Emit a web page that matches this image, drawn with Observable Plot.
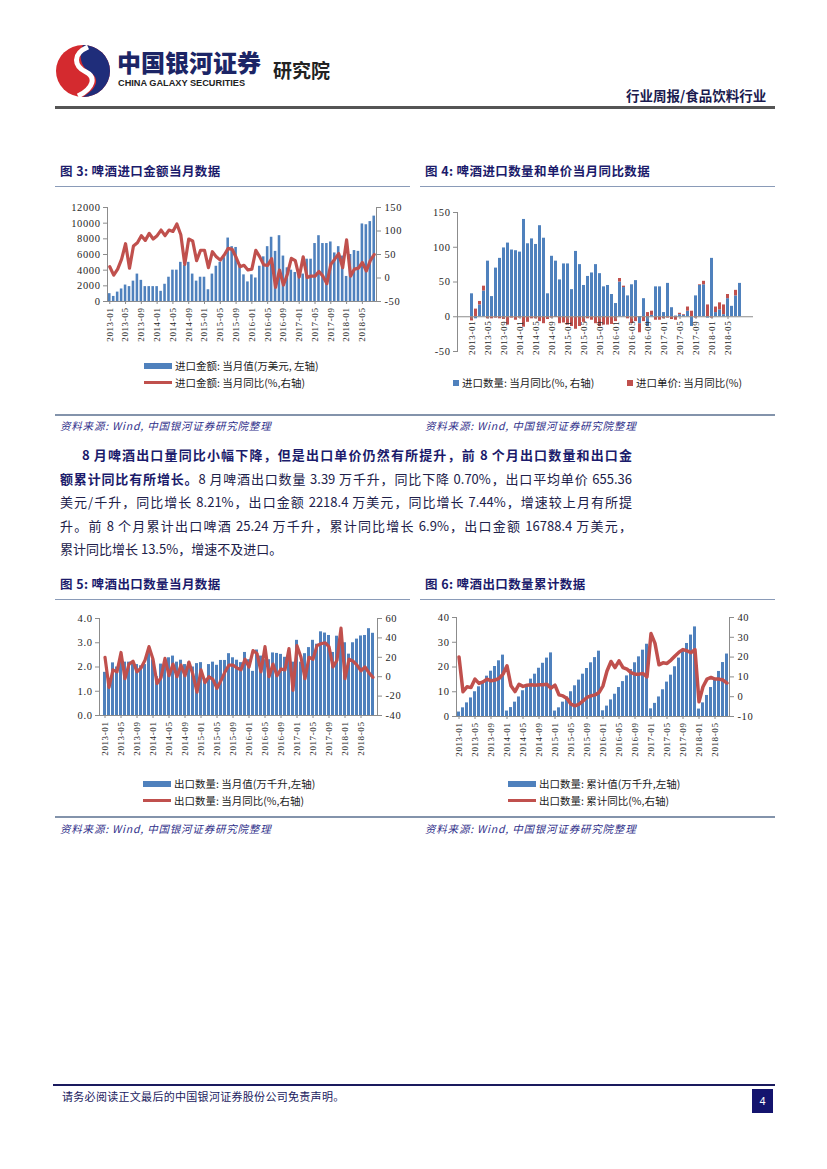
<!DOCTYPE html>
<html><head><meta charset="utf-8">
<script src="https://cdn.jsdelivr.net/npm/d3@7"></script>
<script src="https://cdn.jsdelivr.net/npm/@observablehq/plot@0.6"></script>
<style>
html,body{margin:0;padding:0;background:#fff;overflow:hidden;}
#page{position:relative;width:827px;height:1169px;background:#fff;font-family:"Noto Sans CJK SC","Noto Sans",sans-serif;color:#222;}
.abs{position:absolute;}
.title{font-size:12.5px;font-weight:bold;color:#1b1b6b;letter-spacing:0.4px;white-space:nowrap;}
.hline{position:absolute;height:0;border-top:1.5px solid #8a9bb8;}
.src{font-size:10.5px;font-style:italic;color:#2f2f8a;letter-spacing:0.8px;white-space:nowrap;}
.leg{font-size:10.5px;color:#222;white-space:nowrap;display:flex;align-items:center;}
.sw{display:inline-block;margin-right:3px;}
.para{position:absolute;left:60px;width:572px;font-size:13px;color:#20204a;}
.ln{height:23.5px;line-height:23.5px;white-space:nowrap;}
.j{text-align:justify;text-align-last:justify;white-space:normal;overflow:hidden;}
.para b{color:#1b1b6b;}
.chart{position:absolute;}
.chart svg{position:absolute;left:0;top:0;}
.hd{position:absolute;line-height:1;white-space:nowrap;}
</style></head>
<body><div id="page">

<!-- header -->
<svg class="abs" style="left:54px;top:44px" width="58" height="54" viewBox="0 0 58 54">
  <ellipse cx="29" cy="27" rx="27" ry="26" fill="#d42a2f"/>
  <path d="M29 1 A27 26 0 0 1 56 27 A27 26 0 0 1 29 53 C44 44 46 34 36 28 C24 21 26 8 29 1Z" fill="#1f2d7a"/>
  <path d="M34 3 C18 10 20 22 32 28 C42 33 40 44 24 52" stroke="#fff" stroke-width="5" fill="none"/>
</svg>
<div class="hd" style="left:117px;top:50px;font-size:24px;font-weight:900;color:#1c2566;">中国银河证券</div>
<div class="hd" style="left:118px;top:79px;font-family:'Liberation Sans',Arial,sans-serif;font-size:9.2px;font-weight:bold;color:#222;">CHINA GALAXY SECURITIES</div>
<div class="hd" style="left:273px;top:60px;font-size:19px;font-weight:bold;color:#222;">研究院</div>
<div class="hd" style="left:626px;top:89px;font-size:13.5px;font-weight:bold;color:#1a1a4e;">行业周报/食品饮料行业</div>
<div class="abs" style="left:55px;top:106px;width:720px;height:3px;background:#555;"></div>

<!-- chart titles -->
<div class="abs title" style="left:60px;top:161px;">图 3: 啤酒进口金额当月数据</div>
<div class="abs title" style="left:425px;top:161px;">图 4: 啤酒进口数量和单价当月同比数据</div>
<div class="hline" style="left:55px;top:186px;width:355px;"></div>
<div class="hline" style="left:420px;top:186px;width:355px;"></div>

<div id="c3" class="chart" style="left:55px;top:195px;width:355px;height:160px;"></div>
<div id="c4" class="chart" style="left:420px;top:200px;width:355px;height:165px;"></div>

<div class="abs leg" style="left:144px;top:358px;"><span class="sw" style="width:28px;height:6px;background:#4f81bd;"></span>进口金额: 当月值(万美元, 左轴)</div>
<div class="abs leg" style="left:144px;top:375px;"><span class="sw" style="width:28px;height:3px;background:#c0504d;"></span>进口金额: 当月同比(%,右轴)</div>
<div class="abs leg" style="left:453px;top:375px;"><span class="sw" style="width:6px;height:6px;background:#4f81bd;"></span>进口数量: 当月同比(%, 右轴)</div>
<div class="abs leg" style="left:627px;top:375px;"><span class="sw" style="width:6px;height:6px;background:#c0504d;"></span>进口单价: 当月同比(%)</div>

<div class="abs" style="left:55px;top:414px;width:720px;height:2px;background:#8393ab;"></div>
<div class="abs src" style="left:60px;top:418px;">资料来源: Wind, 中国银河证券研究院整理</div>
<div class="abs src" style="left:425px;top:418px;">资料来源: Wind, 中国银河证券研究院整理</div>

<!-- paragraph -->
<div class="para" style="top:443px;">
  <div class="ln j" style="padding-left:22px;"><b>8 月啤酒出口量同比小幅下降，但是出口单价仍然有所提升，前 8 个月出口数量和出口金</b></div>
  <div class="ln j"><b>额累计同比有所增长。</b>8 月啤酒出口数量 3.39 万千升，同比下降 0.70%，出口平均单价 655.36</div>
  <div class="ln j">美元/千升，同比增长 8.21%，出口金额 2218.4 万美元，同比增长 7.44%，增速较上月有所提</div>
  <div class="ln j">升。前 8 个月累计出口啤酒 25.24 万千升，累计同比增长 6.9%，出口金额 16788.4 万美元，</div>
  <div class="ln">累计同比增长 13.5%，增速不及进口。</div>
</div>

<div class="abs title" style="left:60px;top:574px;">图 5: 啤酒出口数量当月数据</div>
<div class="abs title" style="left:425px;top:574px;">图 6: 啤酒出口数量累计数据</div>
<div class="hline" style="left:55px;top:599px;width:355px;"></div>
<div class="hline" style="left:420px;top:599px;width:355px;"></div>

<div id="c5" class="chart" style="left:55px;top:605px;width:355px;height:160px;"></div>
<div id="c6" class="chart" style="left:420px;top:605px;width:355px;height:160px;"></div>

<div class="abs leg" style="left:143px;top:776px;"><span class="sw" style="width:28px;height:6px;background:#4f81bd;"></span>出口数量: 当月值(万千升,左轴)</div>
<div class="abs leg" style="left:143px;top:793px;"><span class="sw" style="width:28px;height:3px;background:#c0504d;"></span>出口数量: 当月同比(%,右轴)</div>
<div class="abs leg" style="left:508px;top:776px;"><span class="sw" style="width:28px;height:6px;background:#4f81bd;"></span>出口数量: 累计值(万千升,左轴)</div>
<div class="abs leg" style="left:508px;top:793px;"><span class="sw" style="width:28px;height:3px;background:#c0504d;"></span>出口数量: 累计同比(%,右轴)</div>

<div class="abs" style="left:55px;top:816px;width:720px;height:2px;background:#8393ab;"></div>
<div class="abs src" style="left:60px;top:821px;">资料来源: Wind, 中国银河证券研究院整理</div>
<div class="abs src" style="left:425px;top:821px;">资料来源: Wind, 中国银河证券研究院整理</div>

<!-- footer -->
<div class="abs" style="left:53px;top:1084px;width:722px;height:2px;background:#1a1a5e;"></div>
<div class="abs" style="left:62px;top:1088px;font-size:11px;color:#1a1a5e;white-space:nowrap;letter-spacing:0.3px;">请务必阅读正文最后的中国银河证券股份公司免责声明。</div>
<div class="abs" style="left:752px;top:1089px;width:21px;height:24px;background:#14146e;color:#fff;font-size:11px;text-align:center;line-height:24px;font-family:'Liberation Sans',sans-serif;">4</div>

</div>
<script>
// ---- categories ----
const months = [];
for (let y = 2013; y <= 2018; y++) for (let m = 1; m <= 12; m++) {
  if (y === 2018 && m > 8) break;
  months.push(`${y}-${String(m).padStart(2, "0")}`);
}
const tickMonths = months.filter((d, i) => i % 4 === 0);

// ---- chart 3: import amount (万美元) and yoy (%) ----
const importAmount = [
  1000, 650, 1200, 1600, 2100, 1900, 2600, 3500, 2700, 1900, 1900, 1900,
  1900, 1300, 2200, 3100, 4000, 4000, 5000, 4600, 5000, 3500, 2600, 3100,
  3100, 1500, 3500, 4500, 5000, 5600, 8100, 7000, 6900, 4700, 3400, 2500,
  3400, 3000, 4500, 5700, 7000, 8200, 6400, 8400, 5800, 4300, 4000, 3700,
  3600, 3500, 5400, 5400, 7400, 8400, 7400, 7400, 7600, 6200, 7000, 5800,
  3200, 6000, 6500, 6400, 9900, 9800, 10200, 10900
];
const importAmountYoY = [
  24, 6, 19, 40, 73, 21, 68, 75, 90, 80, 95, 83,
  90, 102, 90, 102, 99, 115, 92, 29, 83, 79, 37, 59,
  59, 22, 56, 45, 38, 49, 63, 61, 44, 24, 27, 17,
  19, 59, 45, 28, 27, 41, -20, 17, -15, 8, 42, 37,
  2, 45, 1, 4, 4, 14, 4, -12, 29, 40, 52, 22,
  81, 4, 19, 21, 33, 15, 37, 50
];

// ---- chart 4: import quantity yoy & unit price yoy (%) ----
const importQtyYoY = [
  33, -3, 17, 37, 80, 29, 70, 84, 99, 106, 96, 95,
  93, 140, 105, 112, 104, 131, 113, 33, 87, 80, 53, 76,
  76, 39, 94, 75, 45, 58, 63, 75, 62, 43, 45, 32,
  19, 50, 42, 30, 46, 52, -10, 26, -14, 2, 43, 43,
  6, 48, 13, 1, 3, 2, 8, -14, 30, 45, 46, -2,
  84, 6, 10, 3, 26, 15, 30, 48
];
const importPriceYoY = [
  -6, 11, 5, 7, -3, -3, -2, -3, -4, -12, -2, -5,
  -2, -15, -8, -3, -3, -7, -10, -4, -2, -1, -10, -9,
  -12, -14, -18, -14, -8, -3, -5, -10, -14, -12, -12, -11,
  -7, 5, 2, -3, -10, -7, -13, -7, 6, 6, -5, -5,
  -3, -2, -4, -5, 2, 1, 6, 8, -2, 1, 5, 17,
  -2, 8, 10, 14, 6, 0, 8, 0
];

// ---- chart 5: export quantity monthly (万千升) and yoy (%) ----
const exportQty = [
  1.78, 1.3, 2.17, 2.0, 2.4, 2.2, 2.2, 2.2, 2.1, 2.05, 2.1, 2.7,
  2.3, 1.6, 2.12, 2.2, 2.38, 2.45, 2.2, 2.28, 2.1, 2.2, 2.0, 2.14,
  2.18, 1.5, 2.1, 2.2, 2.07, 2.27, 2.27, 2.55, 2.38, 2.28, 2.18, 2.6,
  2.3, 1.82, 2.7, 2.45, 2.3, 2.3, 2.58, 2.56, 2.52, 2.4, 2.6, 2.2,
  3.1, 2.2, 2.55, 2.8, 3.1, 2.94, 3.45, 3.4, 3.3, 2.6, 3.27, 3.3,
  3.0, 2.53, 3.0, 3.15, 3.28, 3.3, 3.58, 3.39
];
const exportQtyYoY = [
  20, -11, 7, 5, 25, -2, 13, 16, 5, 9, 17, 31,
  18, -7, -1, 19, 1, 13, 0, 12, 1, 15, 2, -16,
  7, -6, 0, -3, -12, -4, 5, 12, 12, 9, 7, 18,
  10, 27, 24, 5, 31, 0, 13, 1, 8, 7, 29, -14,
  32, 20, -2, 20, 18, 32, 34, 35, 31, 10, 17, 50,
  -2, 18, 16, 12, 6, 10, 4, -0.7
];

// ---- chart 6: export quantity cumulative (万千升) and cumulative yoy (%) ----
const exportQtyCum = [
  1.8, 3.5, 5.5, 7.5, 10, 12, 14.1, 16.3, 18.3, 20.2, 22.5, 24.8,
  2.2, 3.6, 5.8, 7.9, 10.4, 12.4, 15.1, 17.1, 19.5, 21.5, 23.6, 25.7,
  2.2, 3.5, 5.8, 7.9, 10, 12.4, 14.7, 17.1, 19.4, 21.7, 23.8, 26.4,
  2.3, 4.2, 6.7, 9.0, 11.7, 14.1, 16.4, 19.0, 21.7, 24.1, 26.8, 29.2,
  3.1, 5.3, 7.9, 10.8, 13.9, 16.7, 20.1, 23.6, 26.9, 29.5, 32.9, 36.2,
  3.0, 5.5, 8.5, 11.7, 14.8, 18.2, 21.8, 25.24
];
const exportQtyCumYoY = [
  20.1, 2.5, 5, 4.6, 8.9, 6.7, 7.5, 8.9, 8, 8.4, 9.2, 11.4,
  15.6, 5.5, 2.6, 6.3, 5.2, 5.8, 6, 5.8, 6, 6, 6.3, 4.3,
  5.8, 0.9, 0.4, -0.9, -3.8, -4.6, -3.8, -2.1, -0.4, 0.4, 0.9, 2.1,
  5.5, 13, 17.8, 14.7, 18.1, 14.7, 13.9, 12.2, 11.4, 11.4, 11.7, 10,
  31.9, 26.9, 16.1, 17.1, 16.8, 18.5, 20.6, 22.5, 23.8, 23.2, 22.2, 23.8,
  -2.6, 5, 8.9, 9.7, 8.9, 8.9, 8.4, 6.9
];

// ---- styling ----
const BLUE = "#4f81bd", RED = "#c0504d", AXIS = "#8c8c8c", TXT = "#262626";
const NUMFONT = "'Liberation Serif','DejaVu Serif',serif";
const minus = d => (d < 0 ? "-" + Math.abs(d) : String(d));

function xScale(extra = {}) {
  return {type: "band", domain: months, paddingInner: 0.35, paddingOuter: 0.25, label: null, ...extra};
}

function dualChart(id, cfg) {
  const el = document.getElementById(id);
  const data = months.map((m, i) => ({month: m, bar: cfg.bars[i], line: cfg.line[i]}));
  const common = {
    width: cfg.width, height: cfg.height,
    marginLeft: cfg.mL, marginRight: cfg.mR, marginTop: cfg.mT, marginBottom: cfg.mB,
    style: {background: "transparent", fontFamily: NUMFONT, fontSize: "10px", letterSpacing: "0.6px", overflow: "visible"}
  };
  const p1 = Plot.plot({
    ...common,
    x: xScale({paddingInner: cfg.pad ?? 0.35}),
    y: {domain: cfg.yDomain, label: null},
    marks: [
      Plot.barY(data, {x: "month", y: "bar", fill: BLUE}),
      Plot.frame({anchor: "left", stroke: AXIS}),
      Plot.frame({anchor: "bottom", stroke: AXIS}),
      Plot.axisY({anchor: "left", ticks: cfg.yTicks, tickFormat: cfg.fmt, tickSize: 4, tickPadding: 3, stroke: AXIS, fill: TXT, fontSize: 10.5}),
      Plot.axisX({ticks: tickMonths, tickRotate: -90, tickSize: 3, tickPadding: 3, stroke: AXIS, fill: TXT, fontSize: 9})
    ]
  });
  const p2 = Plot.plot({
    ...common,
    x: xScale({paddingInner: cfg.pad ?? 0.35, axis: null}),
    y: {domain: cfg.y2Domain, label: null},
    marks: [
      Plot.lineY(data, {x: "month", y: "line", stroke: RED, strokeWidth: cfg.lw ?? 3, strokeLinejoin: "round", strokeLinecap: "round"}),
      Plot.frame({anchor: "right", stroke: AXIS}),
      Plot.axisY({anchor: "right", ticks: cfg.y2Ticks, tickFormat: minus, tickSize: 4, tickPadding: 4, stroke: AXIS, fill: TXT, fontSize: 10.5})
    ]
  });
  el.append(p1, p2);
}

dualChart("c3", {
  width: 355, height: 160, mL: 52, mR: 34, mT: 12, mB: 54,
  bars: importAmount, line: importAmountYoY,
  yDomain: [0, 12000], yTicks: [0, 2000, 4000, 6000, 8000, 10000, 12000], fmt: d => String(d),
  y2Domain: [-50, 150], y2Ticks: [-50, 0, 50, 100, 150], lw: 3.2
});

dualChart("c5", {
  width: 355, height: 160, mL: 44, mR: 33, mT: 13, mB: 50,
  bars: exportQty, line: exportQtyYoY, pad: 0.3,
  yDomain: [0, 4], yTicks: [0, 1, 2, 3, 4], fmt: d => d.toFixed(1),
  y2Domain: [-40, 60], y2Ticks: [-40, -20, 0, 20, 40, 60], lw: 3.2
});

dualChart("c6", {
  width: 355, height: 160, mL: 36, mR: 46, mT: 12, mB: 49,
  bars: exportQtyCum, line: exportQtyCumYoY, pad: 0.3,
  yDomain: [0, 40], yTicks: [0, 10, 20, 30, 40], fmt: d => String(d),
  y2Domain: [-10, 40], y2Ticks: [-10, 0, 10, 20, 30, 40], lw: 3.5
});

// chart 4: stacked bars
{
  const c4 = months.flatMap((m, i) => [
    {month: m, s: "进口数量", v: importQtyYoY[i]},
    {month: m, s: "进口单价", v: importPriceYoY[i]}
  ]);
  const p = Plot.plot({
    width: 355, height: 165, marginLeft: 37, marginRight: 22, marginTop: 12, marginBottom: 14,
    style: {background: "transparent", fontFamily: NUMFONT, fontSize: "10px", letterSpacing: "0.6px", overflow: "visible"},
    x: xScale({paddingInner: 0.3, axis: null}),
    y: {domain: [-50, 150], label: null},
    color: {domain: ["进口数量", "进口单价"], range: [BLUE, RED]},
    marks: [
      Plot.barY(c4, {x: "month", y: "v", fill: "s"}),
      Plot.ruleY([0], {stroke: AXIS}),
      Plot.frame({anchor: "left", stroke: AXIS}),
      Plot.axisY({anchor: "left", ticks: [-50, 0, 50, 100, 150], tickFormat: minus, tickSize: 4, tickPadding: 3, stroke: AXIS, fill: TXT, fontSize: 10.5}),
      Plot.ruleX(tickMonths, {x: d => d, y1: 0, y2: -4, stroke: AXIS}),
      Plot.text(tickMonths, {x: d => d, y: 0, text: d => d, rotate: -90, textAnchor: "end", dy: 4, fontSize: 9, fill: TXT})
    ]
  });
  document.getElementById("c4").append(p);
}
</script>
</body></html>
